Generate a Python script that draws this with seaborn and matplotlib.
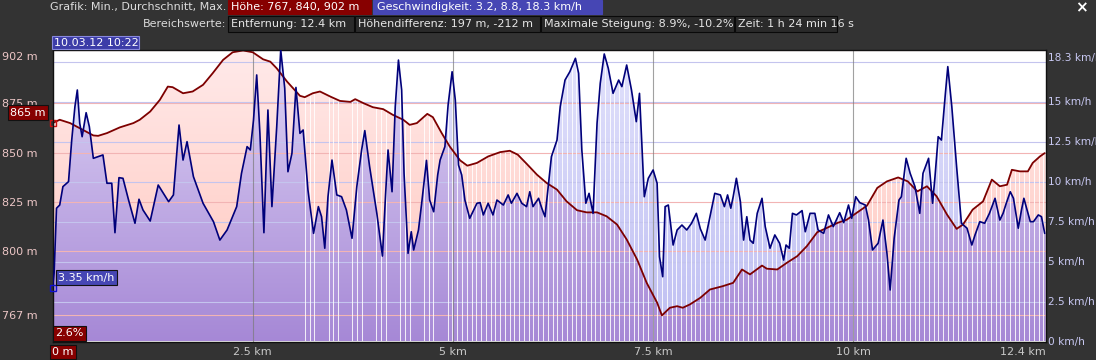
import numpy as np
import matplotlib
matplotlib.use("Agg")
import matplotlib.pyplot as plt
import matplotlib.transforms as mtransforms
from matplotlib.patches import Rectangle
from matplotlib.collections import LineCollection
import seaborn as sns

# ---------------- data ----------------
elev_km = [0.00, 0.09, 0.22, 0.34, 0.51, 0.57, 0.68, 0.84, 1.01, 1.09, 1.22, 1.34, 1.44, 1.50,
           1.63, 1.75, 1.88, 2.00, 2.13, 2.25, 2.38, 2.50, 2.63, 2.72, 2.80, 2.93, 3.09, 3.15,
           3.25, 3.34, 3.47, 3.59, 3.72, 3.78, 3.88, 4.00, 4.13, 4.25, 4.38, 4.46, 4.55, 4.68,
           4.75, 4.86, 4.96, 5.09, 5.18, 5.30, 5.44, 5.59, 5.71, 5.81, 5.92, 6.05, 6.17, 6.30,
           6.42, 6.55, 6.67, 6.80, 6.92, 7.05, 7.17, 7.30, 7.42, 7.55, 7.61, 7.71, 7.80, 7.87,
           7.96, 8.09, 8.21, 8.37, 8.50, 8.61, 8.71, 8.86, 8.92, 9.05, 9.17, 9.30, 9.42, 9.55,
           9.67, 9.80, 9.92, 10.05, 10.17, 10.30, 10.42, 10.56, 10.68, 10.80, 10.92, 11.04,
           11.17, 11.29, 11.37, 11.49, 11.62, 11.73, 11.83, 11.92, 11.98, 12.08, 12.18, 12.24,
           12.33, 12.39]
elev_m = [865.0, 866.7, 865.0, 862.4, 858.7, 858.5, 859.9, 862.8, 865.0, 866.7, 870.9, 876.8,
          883.6, 883.3, 880.2, 881.1, 884.5, 890.4, 897.2, 901.1, 902.0, 901.1, 897.5, 896.3,
          892.9, 886.1, 878.9, 878.2, 880.2, 881.1, 878.5, 876.3, 875.8, 877.2, 875.2, 873.1,
          872.1, 869.2, 866.7, 864.1, 865.0, 869.7, 868.0, 859.9, 853.1, 846.0, 843.3, 844.7,
          848.0, 850.2, 850.9, 848.9, 844.3, 838.7, 834.5, 831.1, 825.1, 820.6, 819.5, 819.5,
          817.5, 813.3, 805.7, 795.5, 783.6, 773.5, 767.0, 770.9, 771.7, 770.9, 772.6, 776.0,
          780.2, 781.9, 783.6, 790.4, 787.9, 792.4, 790.8, 790.4, 793.8, 797.2, 802.3, 809.4,
          811.6, 814.1, 815.8, 819.5, 822.9, 832.0, 835.3, 837.3, 835.3, 830.2, 832.8, 827.7,
          818.4, 811.1, 813.3, 820.9, 825.1, 836.2, 832.8, 833.6, 841.2, 840.4, 840.4, 844.7,
          848.0, 849.7]

speed_km = [0.00, 0.02, 0.035, 0.05, 0.09, 0.13, 0.20, 0.24, 0.28, 0.31, 0.34, 0.37, 0.42, 0.46,
            0.51, 0.63, 0.68, 0.74, 0.78, 0.83, 0.88, 0.95, 1.03, 1.08, 1.13, 1.22, 1.32, 1.45,
            1.51, 1.58, 1.63, 1.68, 1.76, 1.88, 2.01, 2.09, 2.18, 2.30, 2.36, 2.43, 2.47, 2.51,
            2.55, 2.59, 2.64, 2.69, 2.74, 2.80, 2.85, 2.90, 2.94, 2.99, 3.04, 3.09, 3.13, 3.19,
            3.26, 3.32, 3.36, 3.40, 3.44, 3.49, 3.55, 3.61, 3.67, 3.74, 3.80, 3.86, 3.90, 3.96,
            4.05, 4.12, 4.16, 4.19, 4.24, 4.28, 4.32, 4.36, 4.39, 4.44, 4.48, 4.51, 4.57, 4.61,
            4.67, 4.71, 4.76, 4.81, 4.84, 4.90, 4.94, 4.99, 5.03, 5.07, 5.11, 5.15, 5.21, 5.30,
            5.34, 5.38, 5.44, 5.50, 5.55, 5.63, 5.69, 5.73, 5.80, 5.86, 5.92, 5.96, 6.00, 6.07,
            6.11, 6.15, 6.19, 6.23, 6.30, 6.34, 6.40, 6.46, 6.53, 6.57, 6.61, 6.66, 6.70, 6.75,
            6.80, 6.84, 6.89, 6.94, 7.00, 7.07, 7.11, 7.17, 7.23, 7.29, 7.33, 7.39, 7.44, 7.50,
            7.55, 7.58, 7.62, 7.65, 7.69, 7.75, 7.80, 7.86, 7.92, 7.98, 8.04, 8.09, 8.15, 8.21,
            8.27, 8.34, 8.39, 8.43, 8.47, 8.50, 8.54, 8.59, 8.63, 8.67, 8.71, 8.75, 8.80, 8.86,
            8.90, 8.96, 9.02, 9.08, 9.13, 9.16, 9.20, 9.24, 9.29, 9.36, 9.40, 9.46, 9.52, 9.56,
            9.63, 9.69, 9.75, 9.83, 9.88, 9.94, 9.98, 10.03, 10.08, 10.15, 10.19, 10.24, 10.31,
            10.37, 10.42, 10.46, 10.51, 10.57, 10.60, 10.66, 10.71, 10.77, 10.83, 10.87, 10.94,
            10.99, 11.02, 11.06, 11.10, 11.15, 11.18, 11.23, 11.29, 11.35, 11.42, 11.48, 11.52,
            11.58, 11.64, 11.70, 11.77, 11.83, 11.87, 11.91, 11.96, 12.00, 12.06, 12.10, 12.13,
            12.17, 12.21, 12.25, 12.31, 12.35, 12.39]
speed_kmh = [3.35, 4.28, 6.34, 8.33, 8.53, 9.68, 9.99, 12.59, 14.68, 15.72, 13.64, 12.80, 14.30,
             13.43, 11.45, 11.66, 9.89, 9.89, 6.80, 10.24, 10.20, 8.84, 7.39, 8.89, 8.22, 7.53,
             9.78, 8.74, 9.16, 13.53, 11.34, 12.49, 10.30, 8.64, 7.49, 6.34, 6.97, 8.43, 10.51,
             12.18, 11.97, 13.84, 16.66, 13.01, 6.80, 14.47, 8.43, 13.43, 18.22, 15.83, 10.61,
             11.76, 15.88, 13.01, 13.22, 9.47, 6.76, 8.43, 7.80, 5.83, 9.05, 11.34, 9.16, 9.05,
             8.22, 6.45, 9.68, 11.97, 13.18, 10.93, 8.01, 5.34, 9.26, 11.97, 9.36, 14.68, 17.59,
             15.72, 10.51, 5.51, 6.86, 5.72, 6.97, 8.64, 11.32, 8.84, 8.11, 10.41, 11.34, 12.18,
             14.78, 16.86, 15.09, 11.03, 10.41, 8.84, 7.70, 8.64, 8.68, 7.91, 8.64, 7.91, 8.84,
             8.53, 9.16, 8.64, 9.26, 8.64, 8.43, 9.36, 8.43, 8.95, 8.33, 7.80, 9.68, 11.55, 12.59,
             14.68, 16.34, 16.86, 17.70, 16.76, 11.97, 8.64, 9.26, 8.01, 13.64, 16.14, 17.97,
             17.08, 15.51, 16.34, 15.93, 17.28, 15.72, 13.74, 15.51, 9.05, 10.20, 10.72, 9.89,
             5.30, 4.05, 8.43, 8.53, 6.03, 6.97, 7.28, 6.97, 7.39, 8.01, 7.04, 6.34, 7.80, 9.26,
             9.16, 8.43, 9.16, 8.33, 9.05, 10.20, 8.74, 6.34, 7.80, 6.34, 6.14, 8.01, 8.95, 7.18,
             5.83, 6.66, 6.14, 5.09, 6.03, 5.83, 8.01, 7.91, 8.18, 6.86, 8.01, 8.01, 6.97, 6.76,
             7.91, 7.18, 8.05, 7.43, 8.53, 7.70, 9.05, 8.68, 8.53, 7.59, 5.72, 6.14, 7.59, 5.51,
             3.22, 6.45, 8.84, 9.05, 11.45, 10.51, 9.68, 8.01, 10.51, 11.45, 8.64, 10.30, 12.80,
             12.59, 15.51, 17.18, 14.68, 10.93, 7.39, 7.08, 6.03, 6.66, 7.49, 7.39, 8.01, 8.95,
             7.59, 8.01, 8.64, 9.36, 8.95, 7.08, 8.22, 8.95, 8.22, 7.49, 7.49, 7.91, 7.80, 6.76]

dist_ticks = [0, 2.5, 5, 7.5, 10, 12.4]
dist_labels = ["0 m", "2.5 km", "5 km", "7.5 km", "10 km", "12.4 km"]
elev_ticks = [767, 800, 825, 850, 875]
elev_max_label = 902
speed_ticks = [0, 2.5, 5, 7.5, 10, 12.5, 15]
speed_grid = [2.5, 5, 7.5, 10, 12.5, 15, 17.5]
speed_max_label = 18.3
start_grade = "2.6%"
start_time = "10.03.12 10:22"

header_row1_label = "Grafik: Min., Durchschnitt, Max."
header_row1 = ["Höhe: 767, 840, 902 m", "Geschwindigkeit: 3.2, 8.8, 18.3 km/h"]
header_row2_label = "Bereichswerte:"
header_row2 = ["Entfernung: 12.4 km", "Höhendifferenz: 197 m, -212 m",
               "Maximale Steigung: 8.9%, -10.2%", "Zeit: 1 h 24 min 16 s"]

# ---------------- style ----------------
sns.set_style("white")
plt.rcParams['font.family'] = ['DejaVu Sans']
FS = 8
FS_R = 7.6
BG = '#333333'
RED_BOX = '#870000'
BLUE_BOX = '#4646b4'

W, H = 1096, 360
def fx(p): return p / W
def fy(p): return 1 - p / H
PT = 72 / 100  # points per pixel

fig = plt.figure(figsize=(W / 100, H / 100), dpi=100, facecolor=BG)
ax = fig.add_axes([fx(52.5), fy(341.5), (1045.5 - 52.5) / W, 292 / H])
ax.set_facecolor('white')
ax2 = ax.twinx()

XLIM = (0, 12.4)
ELIM = (753.7, 902.5)
SLIM = (0, 18.25)
ax.set_xlim(*XLIM); ax.set_ylim(*ELIM); ax2.set_ylim(*SLIM)

# lines through seaborn
sns.lineplot(x=elev_km, y=elev_m, ax=ax, color='#7d0000', lw=1.3, zorder=5, legend=False)
sns.lineplot(x=speed_km, y=speed_kmh, ax=ax2, color='#00007a', lw=1.2, zorder=5, legend=False)
ax.set_xlim(*XLIM); ax.set_ylim(*ELIM); ax2.set_ylim(*SLIM)
ax.set_xlabel(''); ax.set_ylabel(''); ax2.set_ylabel('')

# ---------------- gradient fills ----------------
e0, e1 = ELIM
s0, s1 = SLIM
xg = np.union1d(np.linspace(XLIM[0], XLIM[1], 4000), np.union1d(elev_km, speed_km))
eg = np.interp(xg, elev_km, elev_m)
sg = e0 + (np.interp(xg, speed_km, speed_kmh) - s0) / (s1 - s0) * (e1 - e0)


def grad_fill(top_vals, c_top, c_bot, z):
    poly = ax.fill_between(xg, e0, top_vals, facecolor='none', edgecolor='none', lw=0)
    t = np.linspace(0, 1, 256)[:, None]
    cols = (np.array(c_bot, float)[None, :] * (1 - t) + np.array(c_top, float)[None, :] * t) / 255
    im = ax.imshow(cols[:, None, :], extent=[XLIM[0], XLIM[1], e0, e1], origin='lower',
                   aspect='auto', zorder=z, interpolation='bilinear')
    im.set_clip_path(poly.get_paths()[0], transform=ax.transData)
    return poly


grad_fill(eg, (255, 234, 234), (255, 196, 186), 1.0)
grad_fill(sg, (226, 226, 252), (190, 190, 242), 1.1)
grad_fill(np.minimum(eg, sg), (222, 212, 245), (166, 136, 214), 1.2)
union_poly = ax.fill_between(xg, e0, np.maximum(eg, sg), facecolor='none', edgecolor='none', lw=0)
ax.set_xlim(*XLIM); ax.set_ylim(*ELIM)

# gridlines
for v in elev_ticks + [elev_max_label]:
    ax.axhline(v, color='#f2b4b4', lw=0.8, zorder=1.5)
sp_tr = mtransforms.blended_transform_factory(ax.transAxes, ax2.transData)
for v in speed_grid:
    ax.plot([0, 1], [v, v], transform=sp_tr, color='#c4c4ee', lw=0.8, zorder=1.5)

# vertical white stripes (bar gaps)
stripe_x = np.arange(3.15, 12.4, 0.0595)
idx = np.arange(len(stripe_x))
keep = (stripe_x >= 4.9) | (idx % 5 < 3)
stripe_x = stripe_x[keep]
lc = LineCollection([[(x, e0), (x, e1)] for x in stripe_x], colors='white', linewidths=0.75,
                    alpha=0.85, zorder=1.6)
ax.add_collection(lc)
lc.set_clip_path(union_poly.get_paths()[0], transform=ax.transData)

for x in dist_ticks[1:-1]:
    ax.axvline(x, color='#7a7a7a', lw=0.8, alpha=0.7, zorder=1.7)

# ---------------- axes / ticks ----------------
for a in (ax, ax2):
    for s in a.spines.values():
        s.set_visible(False)
for side in ('top', 'left', 'bottom', 'right'):
    ax.spines[side].set_visible(True)
    ax.spines[side].set_color('#111111')
    ax.spines[side].set_linewidth(1.0)
    ax.spines[side].set_zorder(10)

ax.set_xticks(dist_ticks)
ax.set_xticklabels(dist_labels)
ax.tick_params(axis='x', length=0, pad=4.0, labelsize=FS, labelcolor='#c8c8c8')
xl = ax.get_xticklabels()
xl[0].set_ha('left'); xl[0].set_color('white')
xl[0].set_bbox(dict(boxstyle='square,pad=0.2', facecolor=RED_BOX, edgecolor='#111111', lw=0.8))
xl[-1].set_ha('right')

ax.set_yticks(elev_ticks)
ax.set_yticklabels([f"{v} m" for v in elev_ticks])
ax.tick_params(axis='y', length=0, pad=50.5 * PT, labelsize=FS, labelcolor='#ecc6c6')
for lbl in ax.get_yticklabels():
    lbl.set_ha('left')
ax.annotate(f"{elev_max_label} m", xy=(0, elev_max_label), xycoords=('axes fraction', 'data'),
            xytext=(-50.5 * PT, -6.5 * PT), textcoords='offset points', ha='left', va='center',
            fontsize=FS, color='#ecc6c6', annotation_clip=False)

ax2.set_yticks(speed_ticks)
ax2.set_yticklabels([f"{v:g} km/h" for v in speed_ticks])
ax2.tick_params(axis='y', length=0, pad=3.0 * PT, labelsize=FS_R, labelcolor='#c8c8f2')
ax2.annotate(f"{speed_max_label} km/h", xy=(1, SLIM[1]), xycoords=('axes fraction', 'data'),
             xytext=(3.0 * PT, -8 * PT), textcoords='offset points', ha='left', va='center',
             fontsize=FS_R, color='#c8c8f2', annotation_clip=False)
ax.grid(False); ax2.grid(False)

# ---------------- start markers and value boxes ----------------
ax.plot([elev_km[0]], [elev_m[0]], marker='s', ms=4.5, mfc='none', mec='#d01010', mew=1.0,
        clip_on=False, zorder=8)
ax2.plot([speed_km[0]], [speed_kmh[0]], marker='s', ms=4.5, mfc='none', mec='#1010d0', mew=1.0,
         clip_on=False, zorder=8)
ax.annotate(f"{elev_m[0]:.0f} m", xy=(elev_km[0], elev_m[0]), xytext=(-7 * PT, 10.5 * PT),
            textcoords='offset points', ha='right', va='center', fontsize=FS, color='white',
            bbox=dict(boxstyle='square,pad=0.22', facecolor=RED_BOX, edgecolor='#111111', lw=0.8),
            annotation_clip=False, zorder=9)
ax2.annotate(f"{speed_kmh[0]:.2f} km/h", xy=(speed_km[0], speed_kmh[0]), xytext=(5.5 * PT, 10 * PT),
             textcoords='offset points', ha='left', va='center', fontsize=FS, color='white',
             bbox=dict(boxstyle='square,pad=0.22', facecolor=BLUE_BOX, edgecolor='#111111', lw=0.8),
             annotation_clip=False, zorder=9)
ax2.annotate(start_grade, xy=(0, 0), xycoords='axes fraction', xytext=(2.5 * PT, 8 * PT),
             textcoords='offset points', ha='left', va='center', fontsize=FS, color='white',
             bbox=dict(boxstyle='square,pad=0.22', facecolor=RED_BOX, edgecolor='#111111', lw=0.8),
             annotation_clip=False, zorder=9)

# ---------------- header ----------------
def fbox(x0, y0, x1, y1, fc, ec):
    fig.patches.append(Rectangle((fx(x0), fy(y1)), fx(x1) - fx(x0), fy(y0) - fy(y1),
                                 transform=fig.transFigure, facecolor=fc, edgecolor=ec, lw=0.8))

def ftext(x, y, s, ha='left', color='white'):
    fig.text(fx(x), fy(y), s, ha=ha, va='center', fontsize=FS, color=color)

ftext(226, 7, header_row1_label, ha='right', color='#dcdcdc')
fbox(228, 0, 371, 14, RED_BOX, RED_BOX)
ftext(231, 7, header_row1[0])
fbox(373, 0, 602, 14, BLUE_BOX, BLUE_BOX)
ftext(377, 7, header_row1[1])

ftext(226, 24, header_row2_label, ha='right', color='#dcdcdc')
row2_spans = [(228, 354), (355, 540), (541, 734), (735, 837)]
for (a0, a1), s in zip(row2_spans, header_row2):
    fbox(a0, 16.5, a1, 31.5, '#2a2a2a', '#0a0a0a')
    ftext(a0 + 3, 24, s, color='#e6e6e6')

fbox(51.5, 35.5, 138.5, 49, '#3c3ca8', '#8888dd')
ftext(54, 42.5, start_time)
fig.text(fx(1081), fy(8), "×", ha='center', va='center', fontsize=11, color='white',
         fontweight='bold')

fig.savefig("out.png", dpi=100, facecolor=BG)
